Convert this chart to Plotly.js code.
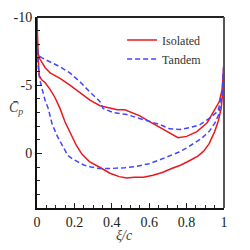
<!DOCTYPE html>
<html><head><meta charset="utf-8">
<script src="https://cdn.plot.ly/plotly-3.0.1.min.js"></script>
<style>html,body{margin:0;padding:0;background:#fff}#plot{width:250px;height:250px}</style>
</head><body><div id="plot"></div>
<script>
// Isolated (red, solid) - suction & pressure sides
const isoUpperXi = [0,0.004,0.016,0.043,0.07,0.123,0.176,0.23,0.283,0.337,0.39,0.43,0.47,0.5,0.55,0.6,0.66,0.71,0.754,0.8,0.855,0.91,0.94,0.975,0.99,1.0];
const isoUpperCp = [-10,-7.4,-6.9,-6.3,-5.9,-5.5,-5.0,-4.45,-3.9,-3.5,-3.35,-3.2,-3.2,-3.05,-2.75,-2.35,-1.9,-1.5,-1.15,-1.25,-1.6,-2.25,-3.0,-3.8,-4.7,-6.6];
const isoLowerXi = [0,0.004,0.012,0.025,0.043,0.07,0.096,0.123,0.15,0.18,0.21,0.24,0.28,0.34,0.39,0.44,0.48,0.52,0.57,0.62,0.67,0.72,0.77,0.82,0.86,0.89,0.92,0.95,0.97,0.985,0.993,1.0];
const isoLowerCp = [-10,-7.5,-5.7,-5.4,-5.2,-4.7,-4.1,-3.3,-2.3,-1.4,-0.6,0.05,0.6,1.05,1.45,1.7,1.8,1.75,1.75,1.6,1.4,1.1,0.85,0.5,0.2,-0.15,-0.7,-1.6,-2.4,-3.3,-4.5,-6.6];
// Tandem (blue, dashed)
const tanUpperXi = [0,0.005,0.027,0.07,0.123,0.176,0.23,0.283,0.337,0.353,0.406,0.48,0.55,0.604,0.66,0.71,0.765,0.82,0.87,0.925,0.968,0.99,1.0];
const tanUpperCp = [-8.8,-7.2,-7.0,-6.7,-6.35,-5.9,-5.25,-4.5,-3.8,-3.3,-3.0,-2.85,-2.55,-2.3,-2.1,-1.8,-1.75,-1.9,-2.1,-2.6,-3.1,-4.45,-6.9];
const tanLowerXi = [0,0.005,0.015,0.027,0.043,0.06,0.08,0.107,0.135,0.165,0.19,0.22,0.25,0.29,0.33,0.4,0.47,0.53,0.6,0.66,0.71,0.76,0.8,0.84,0.88,0.92,0.95,0.97,0.985,0.995,1.0];
const tanLowerCp = [-8.8,-6.5,-5.4,-4.7,-3.9,-3.3,-2.2,-1.3,-0.55,0.15,0.4,0.65,0.85,1.0,1.1,1.1,1.05,0.95,0.75,0.45,0.2,-0.1,-0.4,-0.75,-1.1,-1.6,-2.2,-2.8,-3.7,-5.0,-6.9];
const seriesNames = ['Isolated','Tandem'];
const xTickVals = [0,0.2,0.4,0.6,0.8,1];
const xTickText = ['0','0.2','0.4','0.6','0.8','1'];
const yTickVals = [-10,-5,0];
const yTickText = ['-10','-5','0'];

const red = '#e8191f', blue = '#4646ff';
const serif = 'Liberation Serif, DejaVu Serif, serif';
const traces = [
  {x: isoUpperXi, y: isoUpperCp, mode:'lines', name: seriesNames[0], line:{color:red,width:1.5}, legendgroup:'iso'},
  {x: isoLowerXi, y: isoLowerCp, mode:'lines', name: seriesNames[0], line:{color:red,width:1.5}, legendgroup:'iso', showlegend:false},
  {x: tanUpperXi, y: tanUpperCp, mode:'lines', name: seriesNames[1], line:{color:blue,width:1.5,dash:'5px,3px'}, legendgroup:'tan'},
  {x: tanLowerXi, y: tanLowerCp, mode:'lines', name: seriesNames[1], line:{color:blue,width:1.5,dash:'5px,3px'}, legendgroup:'tan', showlegend:false}
];
const layout = {
  width:250, height:250,
  margin:{l:37, r:26, t:17, b:42},
  paper_bgcolor:'#fff', plot_bgcolor:'#fff',
  font:{family:serif, size:13, color:'#222'},
  showlegend:true,
  legend:{x:0.455, y:0.955, xanchor:'left', yanchor:'top', bgcolor:'rgba(0,0,0,0)', font:{family:serif,size:12,color:'#333'}, tracegroupgap:0, itemwidth:30},
  xaxis:{range:[0,1], tickvals:xTickVals, ticktext:xTickText, ticks:'inside', ticklen:5, tickwidth:1.2, tickcolor:'#222',
         minor:{dtick:0.05, ticks:'inside', ticklen:3, tickcolor:'#222', tickwidth:1},
         showgrid:false, zeroline:false, showline:true, linecolor:'#111', linewidth:2, mirror:false,
         tickfont:{family:serif,size:14,color:'#222'}},
  yaxis:{range:[4,-10], tickvals:yTickVals, ticktext:yTickText, ticks:'inside', ticklen:5, tickwidth:1.2, tickcolor:'#222',
         minor:{dtick:1, ticks:'inside', ticklen:3, tickcolor:'#222', tickwidth:1},
         showgrid:false, zeroline:false, showline:true, linecolor:'#111', linewidth:2, mirror:false,
         tickfont:{family:serif,size:14,color:'#222'}},
  shapes:[
    {type:'line', xref:'paper', yref:'paper', x0:0, x1:1, y0:1, y1:1, line:{color:'#222', width:2}},
    {type:'line', xref:'paper', yref:'paper', x0:1, x1:1, y0:0, y1:1, line:{color:'#555', width:2}}
  ],
  annotations:[
    {text:'<i>ξ/c</i>', xref:'paper', yref:'paper', x:0.47, y:-0.145, xanchor:'center', yanchor:'middle', showarrow:false, font:{family:serif,size:14,color:'#444'}},
    {text:'<i>C̄<sub>p</sub></i>', xref:'paper', yref:'paper', x:-0.11, y:0.52, xanchor:'center', yanchor:'middle', showarrow:false, font:{family:serif,size:14,color:'#444'}}
  ]
};
Plotly.newPlot('plot', traces, layout, {staticPlot:true, displayModeBar:false});
</script></body></html>
